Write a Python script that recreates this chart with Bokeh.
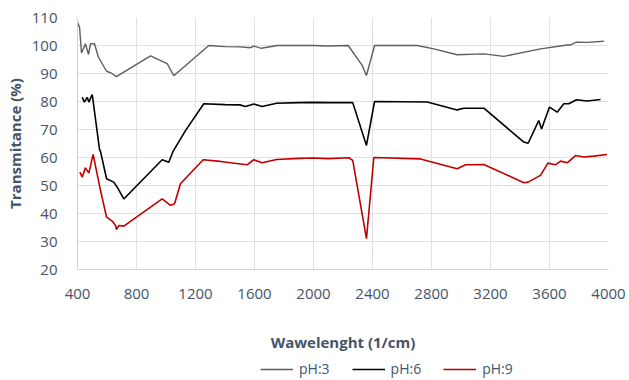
from bokeh.plotting import figure
from bokeh.layouts import column
from bokeh.models import Legend, LegendItem, FixedTicker
from bokeh.embed import file_html
from bokeh.resources import INLINE

# --- data ---
x_ph3 = [400, 414, 427, 454, 475, 488, 515, 542, 597, 630, 664, 895, 1008, 1053, 1290,
         1400, 1500, 1573, 1595, 1647, 1754, 1900, 2000, 2100, 2235, 2330, 2359, 2414,
         2703, 2816, 2974, 3155, 3290, 3539, 3720, 3742, 3783, 3856, 3968]
y_ph3 = [108.3, 106.5, 97.3, 100.6, 96.8, 100.6, 100.6, 95.8, 90.8, 90.1, 88.9, 96.3, 93.5, 89.2, 100.0,
         99.6, 99.5, 99.2, 99.8, 99.0, 100.0, 100.0, 100.0, 99.8, 100.0, 92.9, 89.3, 100.0,
         100.0, 98.8, 96.7, 97.0, 96.1, 98.8, 100.2, 100.2, 101.2, 101.1, 101.5]

x_ph6 = [432, 447, 466, 477, 500, 549, 556, 597, 646, 669, 714, 974, 1019, 1049, 1132, 1256,
         1400, 1500, 1539, 1595, 1652, 1750, 1900, 2000, 2100, 2266, 2359, 2414,
         2771, 2974, 3019, 3155, 3426, 3455, 3527, 3546, 3600, 3652, 3697, 3731, 3783, 3856, 3946]
y_ph6 = [81.5, 79.8, 81.5, 79.8, 82.5, 63.0, 62.2, 52.4, 51.2, 49.4, 45.2, 59.2, 58.3, 62.3, 69.6, 79.2,
         78.9, 78.8, 78.2, 79.1, 78.2, 79.4, 79.6, 79.7, 79.6, 79.6, 64.3, 80.0,
         79.8, 77.0, 77.6, 77.6, 65.5, 65.1, 73.2, 70.2, 78.0, 76.2, 79.2, 79.2, 80.6, 80.2, 80.7]

x_ph9 = [416, 432, 454, 477, 506, 556, 597, 635, 658, 664, 680, 714, 974, 1031, 1058, 1098, 1252,
         1369, 1505, 1550, 1595, 1652, 1750, 1900, 2000, 2100, 2240, 2266, 2359, 2409,
         2725, 2974, 3031, 3155, 3426, 3455, 3539, 3589, 3641, 3675, 3720, 3776, 3832, 3900, 3990]
y_ph9 = [54.8, 53.0, 56.3, 54.4, 61.1, 48.2, 38.7, 37.3, 35.7, 34.3, 35.7, 35.5, 45.2, 42.9, 43.5, 50.6, 59.2,
         58.6, 57.7, 57.4, 59.2, 58.1, 59.3, 59.7, 59.8, 59.6, 59.9, 59.0, 31.0, 60.0,
         59.5, 56.0, 57.4, 57.5, 51.0, 51.2, 53.6, 58.0, 57.4, 58.7, 58.1, 60.7, 60.2, 60.5, 61.1]

series_names = ["pH:3", "pH:6", "pH:9"]
series_colors = ["#5E5E5E", "#000000", "#C00000"]
series_widths = [1.4, 1.6, 1.6]
x_ticks = [400, 800, 1200, 1600, 2000, 2400, 2800, 3200, 3600, 4000]
y_ticks = [20, 30, 40, 50, 60, 70, 80, 90, 100, 110]

TEXT = "#44546A"
GRID = "#DDE2EA"
FONT = "Open Sans"

p = figure(width=629, height=358, output_backend="svg", toolbar_location=None,
           x_range=(400, 4000), y_range=(20, 110),
           min_border_left=77, min_border_right=21, min_border_top=17, min_border_bottom=89)
p.outline_line_color = None
p.background_fill_color = "white"
p.border_fill_color = "white"

xs = [x_ph3, x_ph6, x_ph9]
ys = [y_ph3, y_ph6, y_ph9]
for xv, yv, c, w in zip(xs, ys, series_colors, series_widths):
    p.line(xv, yv, line_color=c, line_width=w)

p.xaxis.ticker = FixedTicker(ticks=x_ticks)
p.yaxis.ticker = FixedTicker(ticks=y_ticks)
for ax in (p.xaxis[0], p.yaxis[0]):
    ax.major_tick_line_color = None
    ax.minor_tick_line_color = None
    ax.axis_line_color = "#C9D2E0"
    ax.major_label_text_color = TEXT
    ax.major_label_text_font = FONT
    ax.major_label_text_font_size = "15px"
    ax.axis_label_text_color = TEXT
    ax.axis_label_text_font = FONT
    ax.axis_label_text_font_size = "15px"
    ax.axis_label_text_font_style = "bold"

p.xaxis.axis_label = "Wawelenght (1/cm)"
p.yaxis.axis_label = "Transmitance (%)"
p.xaxis.major_label_standoff = 13
p.yaxis.major_label_standoff = 14
p.xaxis.axis_label_standoff = 30
p.yaxis.axis_label_standoff = 4

p.xgrid.grid_line_color = GRID
p.ygrid.grid_line_color = GRID
p.xgrid.grid_line_width = 1
p.ygrid.grid_line_width = 1

# legend strip below the chart: the same series drawn outside this strip's view,
# so only their legend entries show
lg = figure(width=629, height=22, output_backend="svg", toolbar_location=None,
            x_range=(0, 1), y_range=(0, 1), min_border=0)
lg.axis.visible = False
lg.grid.visible = False
lg.outline_line_color = None
proxies = [lg.line(xv, yv, line_color=c, line_width=w)
           for xv, yv, c, w in zip(xs, ys, series_colors, series_widths)]
legend = Legend(items=[LegendItem(label=n, renderers=[r]) for n, r in zip(series_names, proxies)],
                orientation="horizontal", location=(183, 2),
                label_text_font=FONT, label_text_font_size="14px", label_text_color=TEXT,
                label_height=16, glyph_width=33, glyph_height=10, label_standoff=6, spacing=22,
                padding=0, margin=0, border_line_color=None, background_fill_alpha=0)
lg.add_layout(legend, "center")

layout = column(p, lg, spacing=0)
open("out.html", "w").write(file_html(layout, INLINE))
